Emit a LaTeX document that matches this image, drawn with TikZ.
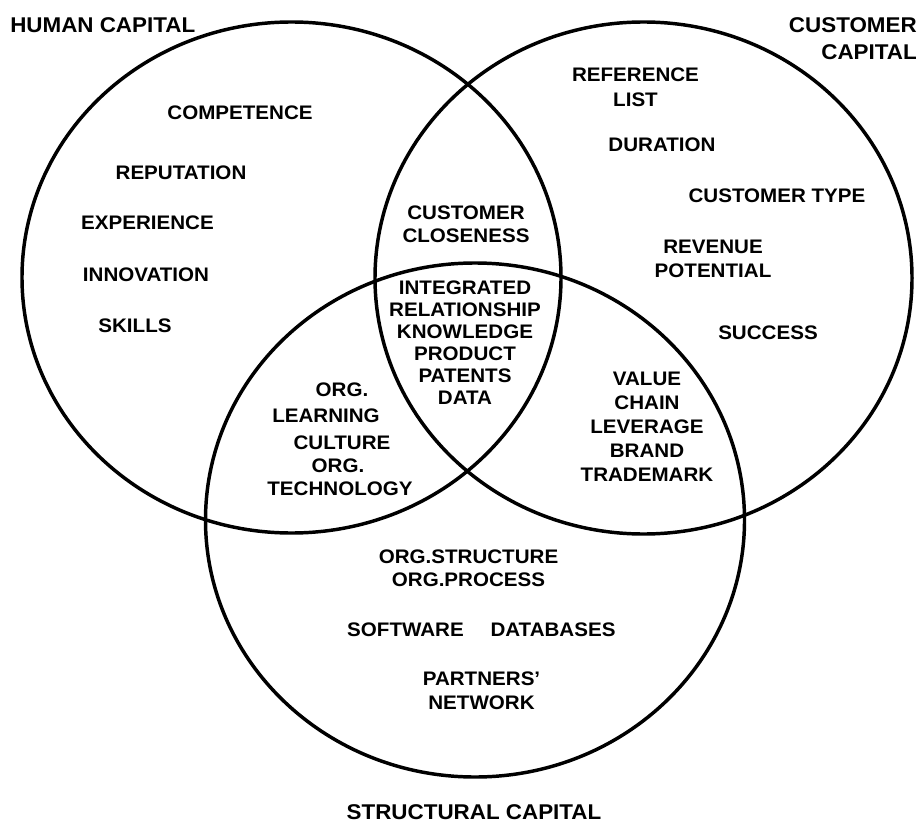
\documentclass[tikz,border=0pt]{standalone}
\usepackage{fontspec}
\setmainfont{Liberation Sans}[FakeStretch=1.05]

\begin{document}
\begin{tikzpicture}[x=0.75pt,y=-0.75pt,
		ring/.style={line width=2.6pt},
		word/.style={inner sep=0pt,align=center,font=\fontsize{14.7}{#1}\selectfont\bfseries},
		word/.default=18pt,
		title/.style={inner sep=0pt,align=center,font=\fontsize{16}{#1}\selectfont\bfseries},
		title/.default=20.25pt]
	\useasboundingbox (0,0) rectangle (919,823);
	% the three capitals
	\draw[ring] (291.5,277.5) ellipse [x radius=269.5, y radius=255.5];
	\draw[ring] (643.5,278) ellipse [x radius=268.5, y radius=256];
	\draw[ring] (475,520) ellipse [x radius=269.5, y radius=257];
	% titles
	\node[title,anchor=west] (human) at (10,25.5) {HUMAN CAPITAL};
	\node[title,align=right,anchor=east] (customer) at (917,38.5) {CUSTOMER\\CAPITAL};
	\node[title] (structural) at (474,812) {STRUCTURAL CAPITAL};
	% human capital
	\node[word] (competence) at (240,113) {COMPETENCE};
	\node[word] (reputation) at (181,172.5) {REPUTATION};
	\node[word] (experience) at (147.5,222.5) {EXPERIENCE};
	\node[word] (innovation) at (146,274.7) {INNOVATION};
	\node[word] (skills) at (135,325.8) {SKILLS};
	% customer capital
	\node[word=18.6pt] (reflist) at (635.5,87) {REFERENCE\\LIST};
	\node[word] (duration) at (662,144.7) {DURATION};
	\node[word] (custtype) at (777,196) {CUSTOMER TYPE};
	\node[word] (revenue) at (713,259) {REVENUE\\POTENTIAL};
	\node[word] (success) at (768,332.8) {SUCCESS};
	% structural capital
	\node[word=17.5pt] (orgstruct) at (468.5,568.3) {ORG.STRUCTURE\\ORG.PROCESS};
	\node[word] (software) at (405.5,630) {SOFTWARE};
	\node[word] (databases) at (553,630) {DATABASES};
	\node[word] (partners) at (481.5,691) {PARTNERS'\\NETWORK};
	% overlaps
	\node[word=17.6pt] (closeness) at (466,224.3) {CUSTOMER\\CLOSENESS};
	\node[word=16.4pt] (integrated) at (465,342.75) {INTEGRATED\\RELATIONSHIP\\KNOWLEDGE\\PRODUCT\\PATENTS\\DATA};
	\node[word=17.9pt] (valuechain) at (647,426.7) {VALUE\\CHAIN\\LEVERAGE\\BRAND\\TRADEMARK};
	\node[word] (org1) at (342,390) {ORG.};
	\node[word] (learning) at (326,415.5) {LEARNING};
	\node[word] (culture) at (342,442.5) {CULTURE};
	\node[word] (org2) at (338,466) {ORG.};
	\node[word] (technology) at (340,489) {TECHNOLOGY};
\end{tikzpicture}
\end{document}
